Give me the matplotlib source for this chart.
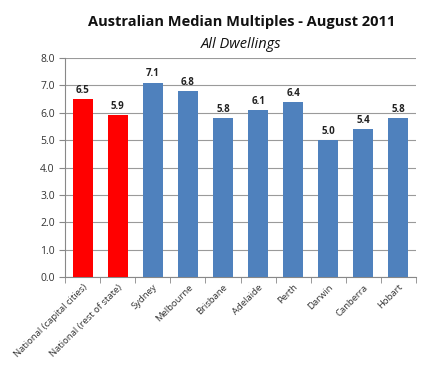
import numpy as np
import matplotlib.pyplot as plt

# Median multiples by region
regions = ['National (capital cities)', 'National (rest of state)', 'Sydney', 'Melbourne',
           'Brisbane', 'Adelaide', 'Perth', 'Darwin', 'Canberra', 'Hobart']
multiples = [6.5, 5.9, 7.1, 6.8, 5.8, 6.1, 6.4, 5.0, 5.4, 5.8]
bar_colors = ['#FF0000', '#FF0000'] + ['#4F81BD'] * 8

plt.rcParams['font.family'] = ['Open Sans', 'DejaVu Sans']

fig = plt.figure(figsize=(4.43, 3.67), dpi=100)
ax = fig.add_axes([0.147, 0.245, 0.792, 0.597])

x = np.arange(len(regions))
bars = ax.bar(x, multiples, width=0.57, color=bar_colors, zorder=3)

for xi, v in zip(x, multiples):
    ax.text(xi, v + 0.12, f'{v:.1f}', ha='center', va='bottom',
            fontsize=7, fontweight='bold', color='#222222')

ax.set_xlim(-0.5, len(regions) - 0.5)
ax.set_ylim(0, 8)
ax.set_yticks(np.arange(0, 8.1, 1.0))
ax.set_yticklabels([f'{t:.1f}' for t in np.arange(0, 8.1, 1.0)], fontsize=7.5, color='#333333')
ax.yaxis.grid(True, color='#9a9a9a', linewidth=0.8, zorder=0)

ax.set_xticks(x)
ax.set_xticklabels(regions, rotation=45, ha='right', rotation_mode='anchor',
                   fontsize=6.8, color='#333333')
ax.set_xticks(np.arange(-0.5, len(regions), 1.0), minor=True)
ax.tick_params(axis='x', which='major', length=0, pad=4)
ax.tick_params(axis='x', which='minor', length=4, color='#888888', direction='out')
ax.tick_params(axis='y', length=4, color='#888888', direction='out')

for side in ['top', 'right']:
    ax.spines[side].set_visible(False)
for side in ['left', 'bottom']:
    ax.spines[side].set_color('#888888')

fig.text(0.545, 0.93, 'Australian Median Multiples - August 2011', ha='center',
         fontsize=10.5, fontweight='bold', color='#111111')
fig.text(0.545, 0.868, 'All Dwellings', ha='center', fontsize=10.5, style='italic',
         color='#111111')

fig.savefig('out.png', dpi=100)
